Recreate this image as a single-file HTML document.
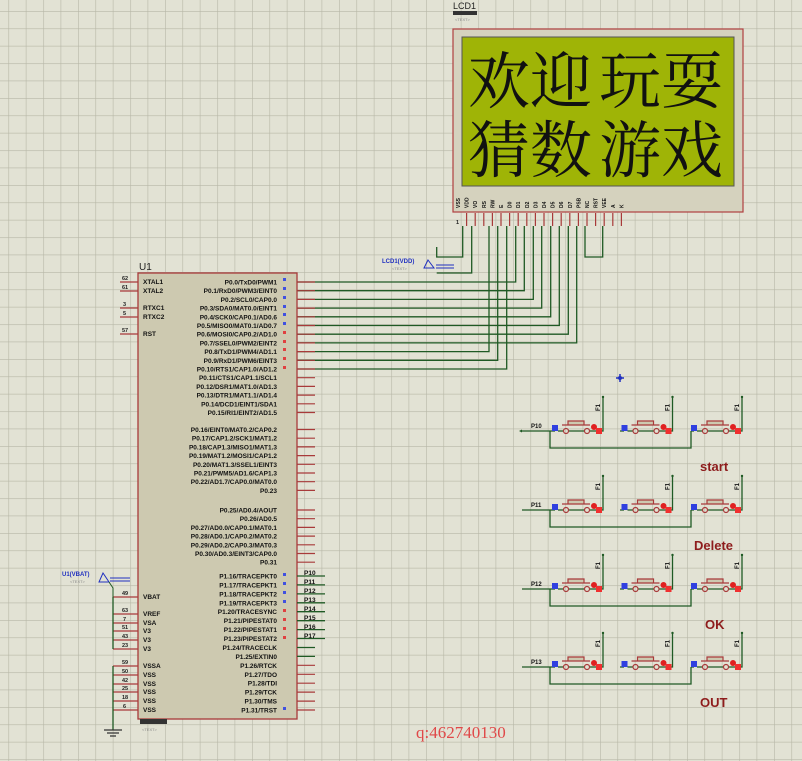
<!DOCTYPE html>
<html><head><meta charset="utf-8">
<style>
html,body{margin:0;padding:0;background:#e2e2d4;}
svg{display:block}
.t{font-family:"Liberation Sans",sans-serif;font-weight:bold;font-size:6.5px;fill:#111}
.n{font-family:"Liberation Sans",sans-serif;font-weight:bold;font-size:5.5px;fill:#222}
.w{stroke:#1f5a24;stroke-width:1.3;fill:none}
.p{stroke:#a83a3a;stroke-width:1.2}
.lab{font-family:"Liberation Sans",sans-serif;font-weight:bold;font-size:13px;fill:#8e1c1c}
</style></head><body>
<svg width="802" height="761" xmlns="http://www.w3.org/2000/svg">
<defs>
<pattern id="g" x="8.4" y="11" width="17.4" height="17.4" patternUnits="userSpaceOnUse">
<rect width="17.4" height="17.4" fill="#e2e2d4"/>
<path d="M0 0H17.4M0 0V17.4" stroke="#b7b7a7" stroke-width="1.2"/>
</pattern>
</defs>
<rect width="802" height="761" fill="url(#g)"/>

<!-- LCD -->
<text x="453" y="9" font-family="Liberation Sans" font-size="9" fill="#222">LCD1</text>
<rect x="453" y="11" width="24" height="4" fill="#333"/>
<text x="455" y="21" font-family="Liberation Sans" font-size="4" fill="#888">&lt;TEXT&gt;</text>
<rect x="453" y="29" width="290" height="183" fill="#d5d2be" stroke="#b04040" stroke-width="1.2"/>
<rect x="462" y="37" width="272" height="149" fill="#9fb406" stroke="#555" stroke-width="1"/>
<text x="468" y="103" font-family="'Noto Serif CJK SC','Noto Sans CJK SC',serif" font-size="62" fill="#111">欢迎</text>
<text x="599" y="103" font-family="'Noto Serif CJK SC','Noto Sans CJK SC',serif" font-size="62" fill="#111">玩耍</text>
<text x="468" y="172" font-family="'Noto Serif CJK SC','Noto Sans CJK SC',serif" font-size="62" fill="#111">猜数</text>
<text x="599" y="172" font-family="'Noto Serif CJK SC','Noto Sans CJK SC',serif" font-size="62" fill="#111">游戏</text>
<g font-family="Liberation Sans" font-weight="bold" font-size="5" fill="#111">
<text transform="translate(460,208) rotate(-90)">VSS</text>
<text transform="translate(468.6,208) rotate(-90)">VDD</text>
<text transform="translate(477.2,208) rotate(-90)">VO</text>
<text transform="translate(485.8,208) rotate(-90)">RS</text>
<text transform="translate(494.4,208) rotate(-90)">RW</text>
<text transform="translate(503,208) rotate(-90)">E</text>
<text transform="translate(511.6,208) rotate(-90)">D0</text>
<text transform="translate(520.2,208) rotate(-90)">D1</text>
<text transform="translate(528.8,208) rotate(-90)">D2</text>
<text transform="translate(537.4,208) rotate(-90)">D3</text>
<text transform="translate(546,208) rotate(-90)">D4</text>
<text transform="translate(554.6,208) rotate(-90)">D5</text>
<text transform="translate(563.2,208) rotate(-90)">D6</text>
<text transform="translate(571.8,208) rotate(-90)">D7</text>
<text transform="translate(580.4,208) rotate(-90)">PSB</text>
<text transform="translate(589,208) rotate(-90)">NC</text>
<text transform="translate(597.6,208) rotate(-90)">RST</text>
<text transform="translate(606.2,208) rotate(-90)">VEE</text>
<text transform="translate(614.8,208) rotate(-90)">A</text>
<text transform="translate(623.4,208) rotate(-90)">K</text>
</g>
<g class="p">
<path d="M466.6 213V226M475.2 213V226M483.8 213V226M492.4 213V226M501 213V226M509.6 213V226M518.2 213V226M526.8 213V226M535.4 213V226M544 213V226M552.6 213V226M561.2 213V226M569.8 213V226M578.4 213V226M587 213V226M595.6 213V226M604.2 213V226M612.8 213V226M621.4 213V226"/>
</g>
<g class="n"><text x="456" y="224">1</text></g>

<!-- LCD wiring -->
<g class="w">
<path d="M462.7 226V257H436.7V247"/>
<path d="M471.7 226V273H436.7"/>
<path d="M585 226V257H602.7V226"/>
<path d="M297 282H515.7V226"/>
<path d="M297 290.7H524.3V226"/>
<path d="M297 299.4H533.3V226"/>
<path d="M297 308.1H541.7V226"/>
<path d="M297 316.8H550.7V226"/>
<path d="M297 325.5H559.3V226"/>
<path d="M297 334.2H568.3V226"/>
<path d="M297 342.9H576.7V226"/>
<path d="M297 351.6H489V226"/>
<path d="M297 360.3H497.7V226"/>
<path d="M297 369H506.7V226"/>
</g>
<text x="382" y="263" font-family="Liberation Sans" font-weight="bold" font-size="6" fill="#2030c0">LCD1(VDD)</text>
<text x="392" y="270" font-family="Liberation Sans" font-size="4" fill="#888">&lt;TEXT&gt;</text>
<path d="M428 260L434 268H424Z" fill="none" stroke="#2030c0"/>
<path d="M436 265H454M436 268H454" stroke="#2030c0" stroke-width="1"/>

<!-- U1 -->
<text x="139" y="270" font-family="Liberation Sans" font-size="10" fill="#222">U1</text>
<rect x="138" y="273" width="159" height="446" fill="#cdc9b0" stroke="#a83a3a" stroke-width="1.3"/>
<rect x="140" y="719" width="27" height="5" fill="#333"/>
<text x="142" y="731" font-family="Liberation Sans" font-size="4" fill="#888">&lt;TEXT&gt;</text>

<!-- left pins -->
<g class="p">
<path d="M120 282H138M120 291H138M120 308H138M120 317H138M120 334H138"/>
<path d="M113 597H138M113 614H138M113 623H138M113 631H138M113 640H138M113 649H138M113 666H138M113 675H138M113 684H138M113 692H138M113 701H138M113 710H138"/>
</g>
<g class="t">
<text x="143" y="284">XTAL1</text><text x="143" y="293">XTAL2</text>
<text x="143" y="310">RTXC1</text><text x="143" y="319">RTXC2</text><text x="143" y="336">RST</text>
<text x="143" y="599">VBAT</text><text x="143" y="616">VREF</text><text x="143" y="625">VSA</text>
<text x="143" y="633">V3</text><text x="143" y="642">V3</text><text x="143" y="651">V3</text>
<text x="143" y="668">VSSA</text><text x="143" y="677">VSS</text><text x="143" y="686">VSS</text>
<text x="143" y="694">VSS</text><text x="143" y="703">VSS</text><text x="143" y="712">VSS</text>
</g>
<g class="n">
<text x="122" y="280">62</text><text x="122" y="289">61</text><text x="123" y="306">3</text><text x="123" y="315">5</text><text x="122" y="332">57</text>
<text x="122" y="595">49</text><text x="122" y="612">63</text><text x="123" y="621">7</text><text x="122" y="629">51</text><text x="122" y="638">43</text><text x="122" y="647">23</text>
<text x="122" y="664">59</text><text x="122" y="673">50</text><text x="122" y="682">42</text><text x="122" y="690">25</text><text x="122" y="699">18</text><text x="123" y="708">6</text>
</g>
<g class="w">
<path d="M113 597V649"/>
<path d="M113 666V730"/>
<path d="M104 730H122M107 733H119M110 736H116" stroke="#333"/>
</g>
<text x="62" y="576" font-family="Liberation Sans" font-weight="bold" font-size="6" fill="#2030c0">U1(VBAT)</text>
<text x="70" y="583" font-family="Liberation Sans" font-size="4" fill="#888">&lt;TEXT&gt;</text>
<path d="M103 573L109 582H99Z" fill="none" stroke="#2030c0"/>
<path d="M110 578H130M110 581H130" stroke="#2030c0"/>
<path d="M109 582L113 588V597" stroke="#1f5a24" fill="none"/>

<!-- right pins -->
<g class="p">
<path d="M297 282H315M297 290.7H315M297 299.4H315M297 308.1H315M297 316.8H315M297 325.5H315M297 334.2H315M297 342.9H315M297 351.6H315M297 360.3H315M297 369H315M297 377.7H315M297 386.4H315M297 395.1H315M297 403.8H315M297 412.5H315"/>
<path d="M297 429.5H315M297 438.2H315M297 446.9H315M297 455.6H315M297 464.3H315M297 473H315M297 481.7H315M297 490.4H315"/>
<path d="M297 510H315M297 518.7H315M297 527.4H315M297 536.1H315M297 544.8H315M297 553.5H315M297 562.2H315"/>
<path d="M297 665.3H315M297 674.3H315M297 683.2H315M297 692.1H315M297 701.1H315M297 710H315"/>
</g>
<g class="w">
<path d="M297 576H325M297 584.9H325M297 593.9H325M297 602.8H325M297 611.7H325M297 620.7H325M297 629.6H325M297 638.5H325M297 647.5H315M297 656.4H315"/>
</g>
<g class="t" text-anchor="end">
<text x="277" y="284.5">P0.0/TxD0/PWM1</text>
<text x="277" y="293.2">P0.1/RxD0/PWM3/EINT0</text>
<text x="277" y="301.9">P0.2/SCL0/CAP0.0</text>
<text x="277" y="310.6">P0.3/SDA0/MAT0.0/EINT1</text>
<text x="277" y="319.3">P0.4/SCK0/CAP0.1/AD0.6</text>
<text x="277" y="328">P0.5/MISO0/MAT0.1/AD0.7</text>
<text x="277" y="336.7">P0.6/MOSI0/CAP0.2/AD1.0</text>
<text x="277" y="345.4">P0.7/SSEL0/PWM2/EINT2</text>
<text x="277" y="354.1">P0.8/TxD1/PWM4/AD1.1</text>
<text x="277" y="362.8">P0.9/RxD1/PWM6/EINT3</text>
<text x="277" y="371.5">P0.10/RTS1/CAP1.0/AD1.2</text>
<text x="277" y="380.2">P0.11/CTS1/CAP1.1/SCL1</text>
<text x="277" y="388.9">P0.12/DSR1/MAT1.0/AD1.3</text>
<text x="277" y="397.6">P0.13/DTR1/MAT1.1/AD1.4</text>
<text x="277" y="406.3">P0.14/DCD1/EINT1/SDA1</text>
<text x="277" y="415">P0.15/RI1/EINT2/AD1.5</text>
<text x="277" y="432">P0.16/EINT0/MAT0.2/CAP0.2</text>
<text x="277" y="440.7">P0.17/CAP1.2/SCK1/MAT1.2</text>
<text x="277" y="449.4">P0.18/CAP1.3/MISO1/MAT1.3</text>
<text x="277" y="458.1">P0.19/MAT1.2/MOSI1/CAP1.2</text>
<text x="277" y="466.8">P0.20/MAT1.3/SSEL1/EINT3</text>
<text x="277" y="475.5">P0.21/PWM5/AD1.6/CAP1.3</text>
<text x="277" y="484.2">P0.22/AD1.7/CAP0.0/MAT0.0</text>
<text x="277" y="492.9">P0.23</text>
<text x="277" y="512.5">P0.25/AD0.4/AOUT</text>
<text x="277" y="521.2">P0.26/AD0.5</text>
<text x="277" y="529.9">P0.27/AD0.0/CAP0.1/MAT0.1</text>
<text x="277" y="538.6">P0.28/AD0.1/CAP0.2/MAT0.2</text>
<text x="277" y="547.3">P0.29/AD0.2/CAP0.3/MAT0.3</text>
<text x="277" y="556">P0.30/AD0.3/EINT3/CAP0.0</text>
<text x="277" y="564.7">P0.31</text>
<text x="277" y="578.5">P1.16/TRACEPKT0</text>
<text x="277" y="587.4">P1.17/TRACEPKT1</text>
<text x="277" y="596.4">P1.18/TRACEPKT2</text>
<text x="277" y="605.3">P1.19/TRACEPKT3</text>
<text x="277" y="614.2">P1.20/TRACESYNC</text>
<text x="277" y="623.2">P1.21/PIPESTAT0</text>
<text x="277" y="632.1">P1.22/PIPESTAT1</text>
<text x="277" y="641">P1.23/PIPESTAT2</text>
<text x="277" y="650">P1.24/TRACECLK</text>
<text x="277" y="658.9">P1.25/EXTIN0</text>
<text x="277" y="667.8">P1.26/RTCK</text>
<text x="277" y="676.8">P1.27/TDO</text>
<text x="277" y="685.7">P1.28/TDI</text>
<text x="277" y="694.6">P1.29/TCK</text>
<text x="277" y="703.6">P1.30/TMS</text>
<text x="277" y="712.5">P1.31/TRST</text>
</g>
<g class="t">
<text x="304" y="575">P10</text><text x="304" y="584">P11</text><text x="304" y="593">P12</text><text x="304" y="602">P13</text>
<text x="304" y="611">P14</text><text x="304" y="620">P15</text><text x="304" y="629">P16</text><text x="304" y="638">P17</text>
</g>
<g fill="#4050e0">
<rect x="283" y="278" width="3" height="3"/><rect x="283" y="287" width="3" height="3"/><rect x="283" y="296" width="3" height="3"/><rect x="283" y="305" width="3" height="3"/><rect x="283" y="313" width="3" height="3"/><rect x="283" y="322" width="3" height="3"/>
<rect x="283" y="573" width="3" height="3"/><rect x="283" y="582" width="3" height="3"/><rect x="283" y="591" width="3" height="3"/><rect x="283" y="600" width="3" height="3"/><rect x="283" y="707" width="3" height="3"/>
</g>
<g fill="#e04040">
<rect x="283" y="331" width="3" height="3"/><rect x="283" y="340" width="3" height="3"/><rect x="283" y="348" width="3" height="3"/><rect x="283" y="357" width="3" height="3"/><rect x="283" y="366" width="3" height="3"/>
<rect x="283" y="609" width="3" height="3"/><rect x="283" y="618" width="3" height="3"/><rect x="283" y="627" width="3" height="3"/><rect x="283" y="636" width="3" height="3"/>
</g>

<!-- crosshair -->
<path d="M616 378H624M620 374V382" stroke="#2030c0" stroke-width="1.5"/>
<circle cx="620" cy="378" r="2" fill="#2030c0"/>

<!-- keypad rows -->
<g id="kp">
<!-- Row template drawn 4 times -->
</g>
<g font-family="Liberation Sans" font-weight="bold" font-size="6" fill="#111">
<text x="531" y="428">P10</text><text x="531" y="507">P11</text><text x="531" y="586">P12</text><text x="531" y="664">P13</text>
</g>

<!-- row 1 Y=431 -->
<g transform="translate(0,431)">
<path class="w" d="M522 0H555M550 0V17H691V0M620 0H624M691 0H694"/>
<path d="M522 -1.5L519 0L522 1.5Z" fill="#1f5a24"/>
<g id="sw">
<rect x="552" y="-6" width="6" height="6" fill="#3040e0"/>
<path d="M558 0H563.5M568.5 0H584.5M589.5 0H603V-34" stroke="#1f5a24" stroke-width="1.3" fill="none"/>
<path d="M568.5 0H584.5" stroke="none"/>
<circle cx="566" cy="0" r="2.5" fill="none" stroke="#a83a3a" stroke-width="1.2"/>
<circle cx="587" cy="0" r="2.5" fill="none" stroke="#a83a3a" stroke-width="1.2"/>
<path d="M562 -6H590M568 -6V-10H584V-6" stroke="#a83a3a" stroke-width="1.2" fill="#cdc9b0"/>
<circle cx="594" cy="-4" r="3" fill="#e02020"/>
<rect x="596" y="-3" width="6" height="6" fill="#f03030"/>
<circle cx="603" cy="-34" r="1.2" fill="#1f5a24"/>
<text transform="translate(600,-20) rotate(-90)" font-family="Liberation Sans" font-weight="bold" font-size="6" fill="#111">F1</text>
</g>
<use href="#sw" x="69.5"/>
<use href="#sw" x="139"/>
</g>
<g transform="translate(0,510)">
<path class="w" d="M522 0H555M550 0V17H691V0M620 0H624M691 0H694"/>
<use href="#sw"/><use href="#sw" x="69.5"/><use href="#sw" x="139"/>
</g>
<g transform="translate(0,589)">
<path class="w" d="M522 0H555M550 0V17H691V0M620 0H624M691 0H694"/>
<use href="#sw"/><use href="#sw" x="69.5"/><use href="#sw" x="139"/>
</g>
<g transform="translate(0,667)">
<path class="w" d="M522 0H555M550 0V17H691V0M620 0H624M691 0H694"/>
<use href="#sw"/><use href="#sw" x="69.5"/><use href="#sw" x="139"/>
</g>

<text class="lab" x="700" y="471">start</text>
<text class="lab" x="694" y="550">Delete</text>
<text class="lab" x="705" y="629">OK</text>
<text class="lab" x="700" y="707">OUT</text>

<text x="416" y="738" font-family="'Liberation Serif',serif" font-size="17" fill="#e04848">q:462740130</text>
</svg>
</body></html>
